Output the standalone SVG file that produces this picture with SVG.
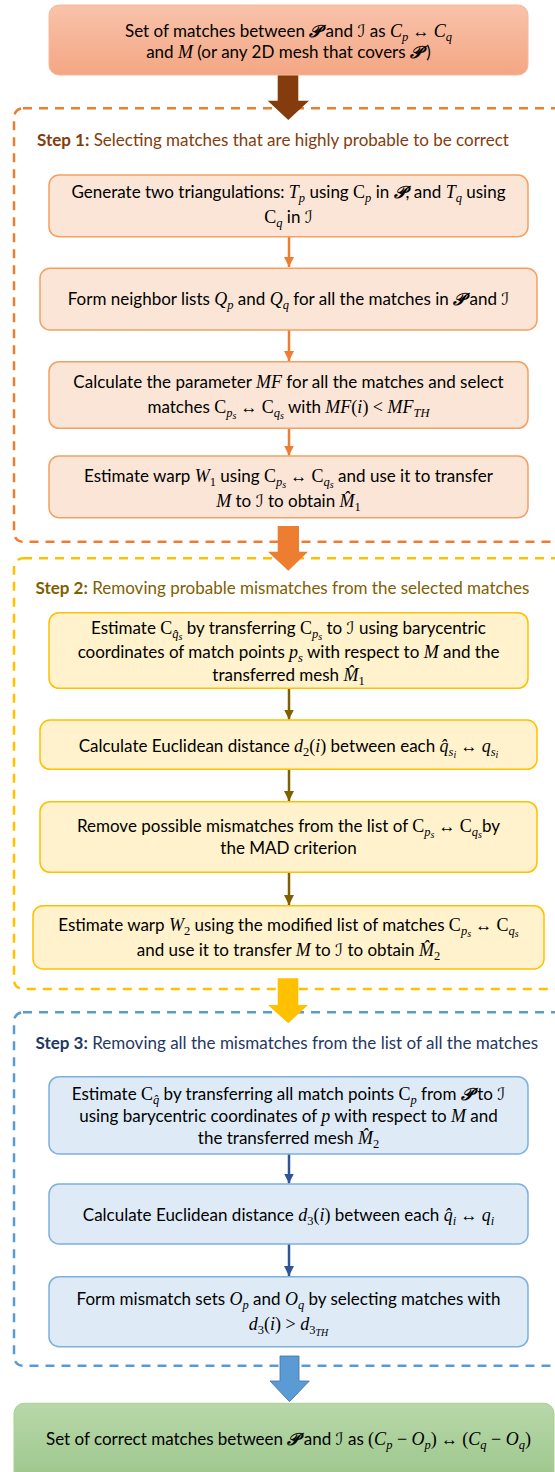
<svg xmlns="http://www.w3.org/2000/svg" width="555" height="1472" viewBox="0 0 555 1472">
<style>
.t{font-family:Lato,"Liberation Sans",sans-serif;font-size:17px;fill:#000;text-anchor:middle}
.h{font-family:Lato,"Liberation Sans",sans-serif;font-size:17px}
.b{font-weight:bold}
.m{font-family:"Liberation Serif",serif;font-style:italic;font-size:18px}
.u{font-family:"Liberation Serif",serif;font-style:normal;font-size:18px}
.o{font-family:"Liberation Serif","DejaVu Sans",serif;font-style:normal;font-size:17px}
.sb{font-size:12.5px}
.ss{font-size:10px}
.sc{font-family:"DejaVu Serif","DejaVu Sans",serif;font-style:italic;font-weight:bold;font-size:17px}
.si{font-family:"DejaVu Serif","DejaVu Sans",serif;font-style:italic;font-weight:normal;font-size:17px}
.c1{fill:none;stroke:#ed7d31;stroke-width:2.5;stroke-dasharray:9 7}
.c2{fill:none;stroke:#ffc000;stroke-width:2.5;stroke-dasharray:9 7}
.c3{fill:none;stroke:#5b9bd5;stroke-width:2.5;stroke-dasharray:9 7}
.n1{fill:#fbe5d6;stroke:#f4a062;stroke-width:1.5}
.n2{fill:#fff2cc;stroke:#ffc000;stroke-width:1.5}
.n3{fill:#deebf7;stroke:#7eb0de;stroke-width:1.5}
</style>
<defs>
<linearGradient id="gTop" x1="0" y1="0" x2="0" y2="1"><stop offset="0" stop-color="#f8c3ab"/><stop offset="1" stop-color="#f4a683"/></linearGradient>
<linearGradient id="gEnd" x1="0" y1="0" x2="0" y2="1"><stop offset="0" stop-color="#b8d8aa"/><stop offset="1" stop-color="#9cc68a"/></linearGradient>
<marker id="a1" markerUnits="userSpaceOnUse" markerWidth="11" markerHeight="10" refX="10" refY="5" orient="auto"><path d="M0,0 L10,5 L0,10 Z" fill="#ed7d31"/></marker>
<marker id="a2" markerUnits="userSpaceOnUse" markerWidth="11" markerHeight="10" refX="10" refY="5" orient="auto"><path d="M0,0 L10,5 L0,10 Z" fill="#7f6000"/></marker>
<marker id="a3" markerUnits="userSpaceOnUse" markerWidth="11" markerHeight="10" refX="10" refY="5" orient="auto"><path d="M0,0 L10,5 L0,10 Z" fill="#2f5597"/></marker>
</defs>

<g id="step1-container">
<rect class="c1" x="14" y="108.3" width="580" height="433.4" rx="9"/>
<text x="37" y="146" class="h" fill="#843c0c"><tspan class="b">Step 1:</tspan> Selecting matches that are highly probable to be correct</text>
</g>
<g id="step2-container">
<rect class="c2" x="14" y="558.3" width="580" height="430.7" rx="9"/>
<text x="35.5" y="593.5" class="h" fill="#7f6000"><tspan class="b">Step 2:</tspan> Removing probable mismatches from the selected matches</text>
</g>
<g id="step3-container">
<rect class="c3" x="14" y="1012.3" width="580" height="353.4" rx="9"/>
<text x="35.5" y="1048.5" class="h" fill="#1f3864"><tspan class="b">Step 3:</tspan> Removing all the mismatches from the list of all the matches</text>
</g>

<g id="connectors">
<path d="M277.7,75 H298.3 V100.7 H309 L288.3,120 L267.7,100.7 H277.7 Z" fill="#843c0c"/>
<path d="M277.7,526 H299 V551.7 H308 L288.3,570.7 L268,551.7 H277.7 Z" fill="#ed7d31"/>
<path d="M277.7,978.3 H298.3 V1005 H308 L288.3,1023.3 L268,1005 H277.7 Z" fill="#ffc000"/>
<path d="M280,1356 H299 V1381 H309.3 L289.5,1401.7 L270,1381 H280 Z" fill="#5b9bd5" stroke="#41719c" stroke-width="0.8"/>
<g stroke-width="2.5" fill="none">
<line x1="289" y1="237" x2="289" y2="267" stroke="#ed7d31" marker-end="url(#a1)"/>
<line x1="289" y1="330" x2="289" y2="361" stroke="#ed7d31" marker-end="url(#a1)"/>
<line x1="289" y1="428.3" x2="289" y2="455.5" stroke="#ed7d31" marker-end="url(#a1)"/>
<line x1="289" y1="688.3" x2="289" y2="719.5" stroke="#7f6000" marker-end="url(#a2)"/>
<line x1="289" y1="769.3" x2="289" y2="801" stroke="#7f6000" marker-end="url(#a2)"/>
<line x1="289" y1="872.3" x2="289" y2="905" stroke="#7f6000" marker-end="url(#a2)"/>
<line x1="289" y1="1154" x2="289" y2="1183.5" stroke="#2f5597" marker-end="url(#a3)"/>
<line x1="289" y1="1244" x2="289" y2="1276" stroke="#2f5597" marker-end="url(#a3)"/>
</g>
</g>

<g id="start">
<rect x="49" y="5" width="479" height="70" rx="10" fill="url(#gTop)" stroke="#f6b89c" stroke-width="1"/>
<text class="t" x="288.5" y="36.7">Set of matches between <tspan class="sc">𝒫</tspan> and <tspan class="si">ℐ</tspan> as <tspan class="m">C</tspan><tspan class="m sb" dy="4">p</tspan><tspan class="o" dy="-4"> ↔ </tspan><tspan class="m">C</tspan><tspan class="m sb" dy="4">q</tspan></text>
<text class="t" x="288.5" y="58.3">and <tspan class="m">M</tspan> (or any 2D mesh that covers <tspan class="sc">𝒫</tspan> )</text>
</g>

<g id="s1-triangulations">
<rect class="n1" x="49" y="175" width="479" height="61.7" rx="10"/>
<text class="t" x="288.5" y="198.3">Generate two triangulations: <tspan class="m">T</tspan><tspan class="m sb" dy="4">p</tspan><tspan dy="-4"> using </tspan><tspan class="u">C</tspan><tspan class="m sb" dy="4">p</tspan><tspan dy="-4"> in </tspan><tspan class="sc">𝒫</tspan>, and <tspan class="m">T</tspan><tspan class="m sb" dy="4">q</tspan><tspan dy="-4"> using</tspan></text>
<text class="t" x="288.5" y="223.3"><tspan class="u">C</tspan><tspan class="m sb" dy="4">q</tspan><tspan dy="-4"> in </tspan><tspan class="si">ℐ</tspan></text>
</g>

<g id="s1-neighbors">
<rect class="n1" x="40" y="268.3" width="497" height="61.7" rx="10"/>
<text class="t" x="288.5" y="305">Form neighbor lists <tspan class="m">Q</tspan><tspan class="m sb" dy="4">p</tspan><tspan dy="-4"> and </tspan><tspan class="m">Q</tspan><tspan class="m sb" dy="4">q</tspan><tspan dy="-4"> for all the matches in </tspan><tspan class="sc">𝒫</tspan> and <tspan class="si">ℐ</tspan></text>
</g>

<g id="s1-mf">
<rect class="n1" x="49" y="361.7" width="479" height="66.6" rx="10"/>
<text class="t" x="288.5" y="388.3">Calculate the parameter <tspan class="m">MF</tspan> for all the matches and select</text>
<text class="t" x="288.5" y="413.3">matches <tspan class="u">C</tspan><tspan class="m sb" dy="4">p</tspan><tspan class="m ss" dy="2">s</tspan><tspan class="o" dy="-6"> ↔ </tspan><tspan class="u">C</tspan><tspan class="m sb" dy="4">q</tspan><tspan class="m ss" dy="2">s</tspan><tspan dy="-6"> with </tspan><tspan class="m">MF</tspan><tspan class="u">(</tspan><tspan class="m">i</tspan><tspan class="u">) &lt; </tspan><tspan class="m">MF</tspan><tspan class="m sb" dy="4">TH</tspan></text>
</g>

<g id="s1-warp">
<rect class="n1" x="49" y="456" width="479" height="61.7" rx="10"/>
<text class="t" x="288.5" y="481.7">Estimate warp <tspan class="m">W</tspan><tspan class="u sb" dy="4">1</tspan><tspan dy="-4"> using </tspan><tspan class="u">C</tspan><tspan class="m sb" dy="4">p</tspan><tspan class="m ss" dy="2">s</tspan><tspan class="o" dy="-6"> ↔ </tspan><tspan class="u">C</tspan><tspan class="m sb" dy="4">q</tspan><tspan class="m ss" dy="2">s</tspan><tspan dy="-6"> and use it to transfer</tspan></text>
<text class="t" x="288.5" y="506.7"><tspan class="m">M</tspan> to <tspan class="si">ℐ</tspan> to obtain <tspan class="m">M&#x302;</tspan><tspan class="u sb" dy="4">1</tspan></text>
</g>

<g id="s2-estimate">
<rect class="n2" x="49" y="612.7" width="479" height="75.6" rx="10"/>
<text class="t" x="288.5" y="634.3">Estimate <tspan class="u">C</tspan><tspan class="m sb" dy="4">q&#x302;</tspan><tspan class="m ss" dy="2">s</tspan><tspan dy="-6"> by transferring </tspan><tspan class="u">C</tspan><tspan class="m sb" dy="4">p</tspan><tspan class="m ss" dy="2">s</tspan><tspan dy="-6"> to </tspan><tspan class="si">ℐ</tspan> using barycentric</text>
<text class="t" x="288.5" y="657.7">coordinates of match points <tspan class="m">p</tspan><tspan class="m sb" dy="4">s</tspan><tspan dy="-4"> with respect to </tspan><tspan class="m">M</tspan> and the</text>
<text class="t" x="288.5" y="680.5">transferred mesh <tspan class="m">M&#x302;</tspan><tspan class="u sb" dy="4">1</tspan></text>
</g>

<g id="s2-distance">
<rect class="n2" x="40" y="720" width="497" height="49.3" rx="10"/>
<text class="t" x="288.5" y="751.5">Calculate Euclidean distance <tspan class="m">d</tspan><tspan class="u sb" dy="4">2</tspan><tspan class="u" dy="-4">(</tspan><tspan class="m">i</tspan><tspan class="u">)</tspan> between each <tspan class="m">q&#x302;</tspan><tspan class="m sb" dy="4">s</tspan><tspan class="m ss" dy="2">i</tspan><tspan class="o" dy="-6"> ↔ </tspan><tspan class="m">q</tspan><tspan class="m sb" dy="4">s</tspan><tspan class="m ss" dy="2">i</tspan></text>
</g>

<g id="s2-mad">
<rect class="n2" x="40" y="801.7" width="497" height="70.6" rx="10"/>
<text class="t" x="288.5" y="831.7">Remove possible mismatches from the list of <tspan class="u">C</tspan><tspan class="m sb" dy="4">p</tspan><tspan class="m ss" dy="2">s</tspan><tspan class="o" dy="-6"> ↔ </tspan><tspan class="u">C</tspan><tspan class="m sb" dy="4">q</tspan><tspan class="m ss" dy="2">s</tspan><tspan dy="-6">by</tspan></text>
<text class="t" x="288.5" y="854.3">the MAD criterion</text>
</g>

<g id="s2-warp">
<rect class="n2" x="33" y="905.7" width="511" height="63.3" rx="10"/>
<text class="t" x="288.5" y="930.7">Estimate warp <tspan class="m">W</tspan><tspan class="u sb" dy="4">2</tspan><tspan dy="-4"> using the modified list of matches </tspan><tspan class="u">C</tspan><tspan class="m sb" dy="4">p</tspan><tspan class="m ss" dy="2">s</tspan><tspan class="o" dy="-6"> ↔ </tspan><tspan class="u">C</tspan><tspan class="m sb" dy="4">q</tspan><tspan class="m ss" dy="2">s</tspan></text>
<text class="t" x="288.5" y="955.7">and use it to transfer <tspan class="m">M</tspan> to <tspan class="si">ℐ</tspan> to obtain <tspan class="m">M&#x302;</tspan><tspan class="u sb" dy="4">2</tspan></text>
</g>

<g id="s3-estimate">
<rect class="n3" x="49" y="1076.7" width="479" height="77.3" rx="10"/>
<text class="t" x="288.5" y="1100">Estimate <tspan class="u">C</tspan><tspan class="m sb" dy="4">q&#x302;</tspan><tspan dy="-4"> by transferring all match points </tspan><tspan class="u">C</tspan><tspan class="m sb" dy="4">p</tspan><tspan dy="-4"> from </tspan><tspan class="sc">𝒫</tspan> to <tspan class="si">ℐ</tspan></text>
<text class="t" x="288.5" y="1121.7">using barycentric coordinates of <tspan class="m">p</tspan> with respect to <tspan class="m">M</tspan> and</text>
<text class="t" x="288.5" y="1144.3">the transferred mesh <tspan class="m">M&#x302;</tspan><tspan class="u sb" dy="4">2</tspan></text>
</g>

<g id="s3-distance">
<rect class="n3" x="49" y="1184" width="479" height="60" rx="10"/>
<text class="t" x="288.5" y="1221">Calculate Euclidean distance <tspan class="m">d</tspan><tspan class="u sb" dy="4">3</tspan><tspan class="u" dy="-4">(</tspan><tspan class="m">i</tspan><tspan class="u">)</tspan> between each <tspan class="m">q&#x302;</tspan><tspan class="m sb" dy="4">i</tspan><tspan class="o" dy="-4"> ↔ </tspan><tspan class="m">q</tspan><tspan class="m sb" dy="4">i</tspan></text>
</g>

<g id="s3-mismatch">
<rect class="n3" x="49" y="1276.7" width="479" height="70" rx="10"/>
<text class="t" x="288.5" y="1305">Form mismatch sets <tspan class="m">O</tspan><tspan class="m sb" dy="4">p</tspan><tspan dy="-4"> and </tspan><tspan class="m">O</tspan><tspan class="m sb" dy="4">q</tspan><tspan dy="-4"> by selecting matches with</tspan></text>
<text class="t" x="288.5" y="1330"><tspan class="m">d</tspan><tspan class="u sb" dy="4">3</tspan><tspan class="u" dy="-4">(</tspan><tspan class="m">i</tspan><tspan class="u">) &gt; </tspan><tspan class="m">d</tspan><tspan class="u sb" dy="4">3</tspan><tspan class="m ss" dy="2">TH</tspan></text>
</g>

<g id="end">
<rect x="14" y="1403.3" width="540" height="80" rx="10" fill="url(#gEnd)" stroke="#a9d18e" stroke-width="1"/>
<text class="t" x="288.5" y="1445">Set of correct matches between <tspan class="sc">𝒫</tspan> and <tspan class="si">ℐ</tspan> as <tspan class="u">(</tspan><tspan class="m">C</tspan><tspan class="m sb" dy="4">p</tspan><tspan class="u" dy="-4"> − </tspan><tspan class="m">O</tspan><tspan class="m sb" dy="4">p</tspan><tspan class="u" dy="-4">)</tspan><tspan class="o"> ↔ </tspan><tspan class="u">(</tspan><tspan class="m">C</tspan><tspan class="m sb" dy="4">q</tspan><tspan class="u" dy="-4"> − </tspan><tspan class="m">O</tspan><tspan class="m sb" dy="4">q</tspan><tspan class="u" dy="-4">)</tspan></text>
</g>
</svg>
